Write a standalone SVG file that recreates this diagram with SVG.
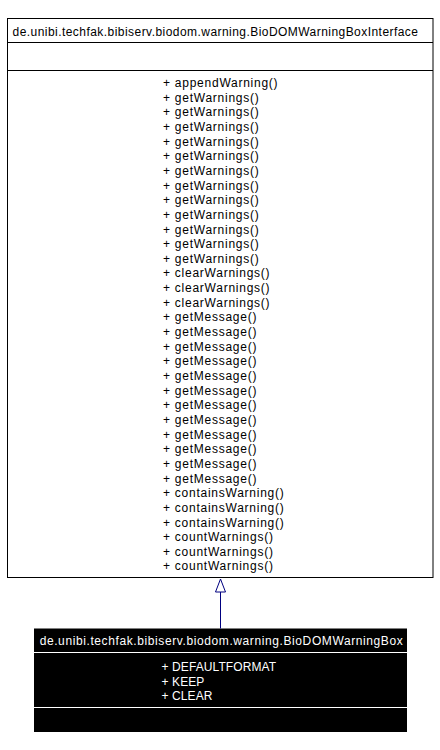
<svg xmlns="http://www.w3.org/2000/svg" width="440" height="750" viewBox="0 0 440 750">
<style>
text{font-family:"Liberation Sans",Arial,sans-serif;font-size:12px}
.t{text-anchor:middle;letter-spacing:0.45px}
.t2{text-anchor:middle;letter-spacing:0.6px}
.m{letter-spacing:0.75px;fill:#000}
.w{fill:#fff}
.a{fill:#fff;letter-spacing:0.1px}
.box{fill:#fff;stroke:#000;stroke-width:1}
.sep{stroke:#000;stroke-width:1}
.wsep{stroke:#fff;stroke-width:1}
.edge{stroke:#000080;stroke-width:1;fill:none}
.head{stroke:#000080;stroke-width:1;fill:#fff}
</style>
<rect width="440" height="750" fill="#fff"/>
<g id="BioDOMWarningBoxInterface">
<rect class="box" x="7.5" y="18.5" width="425.5" height="559"/>
<line class="sep" x1="7.5" y1="42.5" x2="433" y2="42.5"/>
<line class="sep" x1="7.5" y1="70.5" x2="433" y2="70.5"/>
<text class="t" x="215.5" y="36">de.unibi.techfak.bibiserv.biodom.warning.BioDOMWarningBoxInterface</text>
<text class="m" x="163" y="87">+ appendWarning()</text>
<text class="m" x="163" y="101.65">+ getWarnings()</text>
<text class="m" x="163" y="116.3">+ getWarnings()</text>
<text class="m" x="163" y="130.95">+ getWarnings()</text>
<text class="m" x="163" y="145.6">+ getWarnings()</text>
<text class="m" x="163" y="160.25">+ getWarnings()</text>
<text class="m" x="163" y="174.9">+ getWarnings()</text>
<text class="m" x="163" y="189.55">+ getWarnings()</text>
<text class="m" x="163" y="204.2">+ getWarnings()</text>
<text class="m" x="163" y="218.85">+ getWarnings()</text>
<text class="m" x="163" y="233.5">+ getWarnings()</text>
<text class="m" x="163" y="248.15">+ getWarnings()</text>
<text class="m" x="163" y="262.8">+ getWarnings()</text>
<text class="m" x="163" y="277.45">+ clearWarnings()</text>
<text class="m" x="163" y="292.1">+ clearWarnings()</text>
<text class="m" x="163" y="306.75">+ clearWarnings()</text>
<text class="m" x="163" y="321.4">+ getMessage()</text>
<text class="m" x="163" y="336.05">+ getMessage()</text>
<text class="m" x="163" y="350.7">+ getMessage()</text>
<text class="m" x="163" y="365.35">+ getMessage()</text>
<text class="m" x="163" y="380">+ getMessage()</text>
<text class="m" x="163" y="394.65">+ getMessage()</text>
<text class="m" x="163" y="409.3">+ getMessage()</text>
<text class="m" x="163" y="423.95">+ getMessage()</text>
<text class="m" x="163" y="438.6">+ getMessage()</text>
<text class="m" x="163" y="453.25">+ getMessage()</text>
<text class="m" x="163" y="467.9">+ getMessage()</text>
<text class="m" x="163" y="482.55">+ getMessage()</text>
<text class="m" x="163" y="497.2">+ containsWarning()</text>
<text class="m" x="163" y="511.85">+ containsWarning()</text>
<text class="m" x="163" y="526.5">+ containsWarning()</text>
<text class="m" x="163" y="541.15">+ countWarnings()</text>
<text class="m" x="163" y="555.8">+ countWarnings()</text>
<text class="m" x="163" y="570.45">+ countWarnings()</text>
</g>
<g id="BioDOMWarningBox">
<rect x="34" y="628.5" width="373" height="103.5" fill="#000"/>
<line class="wsep" x1="34" y1="652.5" x2="407" y2="652.5"/>
<line class="wsep" x1="34" y1="707.5" x2="407" y2="707.5"/>
<text class="t2 w" x="221.5" y="645">de.unibi.techfak.bibiserv.biodom.warning.BioDOMWarningBox</text>
<text class="a" x="161.5" y="671">+ DEFAULTFORMAT</text>
<text class="a" x="161.5" y="685.6">+ KEEP</text>
<text class="a" x="161.5" y="700.2">+ CLEAR</text>
</g>
<g id="connectors">
<line class="edge" x1="220.5" y1="592" x2="220.5" y2="628.5"/>
<polygon class="head" points="220.5,579 215.5,592 225.5,592"/>
</g>
</svg>
